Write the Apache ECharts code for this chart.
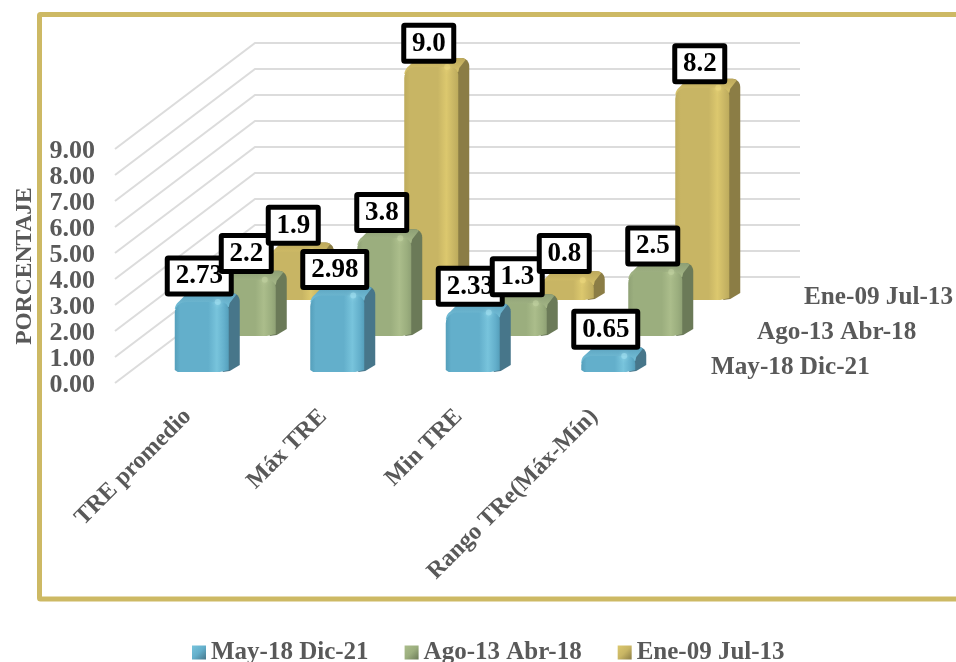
<!DOCTYPE html>
<html><head><meta charset="utf-8">
<style>html,body{margin:0;padding:0;background:#fff}#c{width:956px;height:662px}</style>
<script src="https://cdn.jsdelivr.net/npm/echarts@6/dist/echarts.min.js"></script>
</head><body><div id="c"></div>
<script>
const categories = ['TRE promedio', 'Máx TRE', 'Min TRE', 'Rango TRe(Máx-Mín)'];
const seriesNames = ['May-18 Dic-21', 'Ago-13 Abr-18', 'Ene-09 Jul-13'];
const may18Dic21 = [2.73, 2.98, 2.33, 0.65];
const ago13Abr18 = [2.2, 3.8, 1.3, 2.5];
const ene09Jul13 = [1.9, 9.0, 0.8, 8.2];
const yTicks = [0, 1, 2, 3, 4, 5, 6, 7, 8, 9];

const FONT = '"Liberation Serif", serif';
const TEXT = '#595959';
const look = [
  {dx: 19, dy: -11, dec: 2, base: '#63afcb', light: '#78c4dc', dark: '#559fbb', side: '#47768a', top: '#5ca3bf', spot: '#a4e2f2'},
  {dx: 66, dy: -47, dec: 1, base: '#9bae7e', light: '#abbd8b', dark: '#8fa175', side: '#6b7a58', top: '#8d9f75', spot: '#c2d3a2'},
  {dx: 113, dy: -83, dec: 1, base: '#c8b564', light: '#dcc86e', dark: '#bdab5c', side: '#8b7d45', top: '#bda95c', spot: '#ecd97e'}
];
const W = 54, DX = 11, DY = 8, HALF = 27;

function arc(cx, cy, r, a0, a1) {
  const pts = [];
  for (let i = 0; i <= 6; i++) {
    const a = (a0 + (a1 - a0) * i / 6) * Math.PI / 180;
    pts.push([cx + r * Math.cos(a), cy + r * Math.sin(a)]);
  }
  return pts;
}
function barItem(s) {
  const st = look[s];
  return function (params, api) {
    const b = api.coord([api.value(0), 0]);
    const t = api.coord([api.value(0), api.value(1)]);
    const x = b[0] + st.dx - HALF, base = b[1] + st.dy, top = t[1] + st.dy;
    const h = base - top;
    const r = Math.min(11, h * 0.55), rr = Math.min(8, h * 0.45);
    const xr = x + W, xb = xr + DX;
    const side = [[xr - 6, base], [xr + 1, base - 1]].concat([[xb, base - DY + 1]],
      arc(xb - rr, top - DY + rr, rr, 0, -90), [[xr - 8, top - DY], [xr - 8, top + 3]]);
    const topFace = [].concat(arc(x + r, top - 2 + r, r, 180, 235),
      [[x + 12, top - DY + 0.5]], [[xb - rr, top - DY]], arc(xb - rr, top - DY + rr, rr, -90, -55),
      [[xr + 1, top + 2], [xr, top + 6], [x, top + 8]]);
    const front = [].concat(arc(x + r, top + 1 + r, r, 180, 270),
      arc(xr - rr, top + 1 + rr, rr, -90, 0),
      [[xr, base - 2], [xr - 9, base], [x + 3, base], [x, base - 2]]);
    const grad = {type: 'linear', x: 0, y: 0, x2: 1, y2: 0, colorStops: [
      {offset: 0, color: st.dark}, {offset: 0.1, color: st.base}, {offset: 0.62, color: st.base},
      {offset: 0.78, color: st.light}, {offset: 0.92, color: st.base}, {offset: 1, color: st.dark}]};
    const topGrad = {type: 'linear', x: 0, y: 0, x2: 0, y2: 1, colorStops: [
      {offset: 0, color: st.top}, {offset: 1, color: st.light}]};
    return {type: 'group', children: [
      {type: 'polygon', shape: {points: side}, style: {fill: st.side}},
      {type: 'polygon', shape: {points: topFace}, style: {fill: topGrad}},
      {type: 'polygon', shape: {points: front}, style: {fill: grad}},
      {type: 'circle', shape: {cx: xr - 11, cy: top + 1, r: Math.min(3, h * 0.18)}, style: {fill: st.spot, opacity: 0.55, shadowBlur: 4, shadowColor: st.spot}}
    ]};
  };
}
function labelItem(s) {
  const st = look[s];
  return function (params, api) {
    const b = api.coord([api.value(0), 0]);
    const t = api.coord([api.value(0), api.value(1)]);
    const gap = 5.5 - 0.35 * api.value(1);
    const cx = b[0] + st.dx - 2.5, bottom = t[1] + st.dy - gap;
    const txt = api.value(1).toFixed(st.dec);
    const w = st.dec === 2 ? 69 : 55, h = 41;
    return {type: 'group', children: [
      {type: 'rect', shape: {x: cx - w / 2 + 2.5, y: bottom - h + 2.5, width: w - 5, height: h - 5, r: 1},
        style: {fill: '#fff', stroke: '#000', lineWidth: 5, lineJoin: 'round'}},
      {type: 'text', x: cx, y: bottom - h / 2 + 0.5,
        style: {text: txt, fill: '#000', font: 'bold 27px ' + FONT, align: 'center', verticalAlign: 'middle'}}
    ]};
  };
}
const wallLines = function (params, api) {
  const p = api.coord([0, api.value(0)]);
  const left = params.coordSys.x, y = p[1];
  return {type: 'polyline', shape: {points: [[left, y], [left + 140, y - 106], [left + 685, y - 106]]},
    style: {fill: 'none', stroke: '#dcdcdc', lineWidth: 2}};
};
const values = [may18Dic21, ago13Abr18, ene09Jul13];
const rows = v => v.map((d, i) => [i, d]);
const series = [{
  type: 'custom', name: 'paredes', z: 1, silent: true, clip: false,
  data: yTicks.map(v => [v]), encode: {y: 0}, renderItem: wallLines
}];
[2, 1, 0].forEach((s, k) => series.push({
  type: 'custom', name: seriesNames[s], z: 2 + k, silent: true, clip: false,
  itemStyle: {color: look[s].base}, data: rows(values[s]), encode: {x: 0, y: 1}, renderItem: barItem(s)
}));
[0, 1, 2].forEach(s => series.push({
  type: 'custom', name: 'rotulo ' + seriesNames[s], z: 6 + s, silent: true, clip: false,
  data: rows(values[s]), encode: {x: 0, y: 1}, renderItem: labelItem(s)
}));
const legendIcon = s => ({type: 'linear', x: 0, y: 0, x2: 1, y2: 1, colorStops: [
  {offset: 0, color: look[s].light}, {offset: 0.5, color: look[s].base}, {offset: 1, color: look[s].side}]});
const depthPos = [[711, 367], [757, 332], [804, 297]];
const chart = echarts.init(document.getElementById('c'));
chart.setOption({
  animation: false,
  backgroundColor: '#fff',
  grid: {left: 115, top: 149, width: 542, height: 234, containLabel: false, outerBoundsMode: 'none'},
  xAxis: {
    type: 'category', data: categories,
    axisLine: {show: false}, axisTick: {show: false}, splitLine: {show: false},
    axisLabel: {rotate: 45, interval: 0, margin: 25, align: 'right', verticalAlign: 'top', lineHeight: 14, color: TEXT, fontFamily: FONT, fontWeight: 'bold', fontSize: 24}
  },
  yAxis: {
    type: 'value', min: 0, max: 9, interval: 1,
    name: 'PORCENTAJE', nameLocation: 'middle', nameGap: 78, nameRotate: 90,
    nameTextStyle: {color: TEXT, fontFamily: FONT, fontWeight: 'bold', fontSize: 23.5},
    axisLine: {show: false}, axisTick: {show: false}, splitLine: {show: false},
    axisLabel: {margin: 20, verticalAlign: 'top', lineHeight: 4, color: TEXT, fontFamily: FONT, fontWeight: 'bold', fontSize: 26, formatter: v => v.toFixed(2)}
  },
  legend: {
    left: 192, top: 640, padding: 0, itemWidth: 14, itemHeight: 14, itemGap: 36, selectedMode: false,
    textStyle: {color: TEXT, fontFamily: FONT, fontWeight: 'bold', fontSize: 25},
    data: seriesNames.map((n, s) => ({name: n, icon: 'rect', itemStyle: {color: legendIcon(s)}}))
  },
  graphic: [
    {type: 'rect', z: 0, shape: {x: 39.5, y: 14.5, width: 1000, height: 584.5, r: 1},
      style: {fill: 'none', stroke: '#cdb964', lineWidth: 5}}
  ].concat(seriesNames.map((n, s) => ({
    type: 'text', x: depthPos[s][0], y: depthPos[s][1],
    style: {text: n, fill: TEXT, font: 'bold 25.2px ' + FONT, verticalAlign: 'middle', align: 'left'}
  }))),
  series: series
});
</script></body></html>
